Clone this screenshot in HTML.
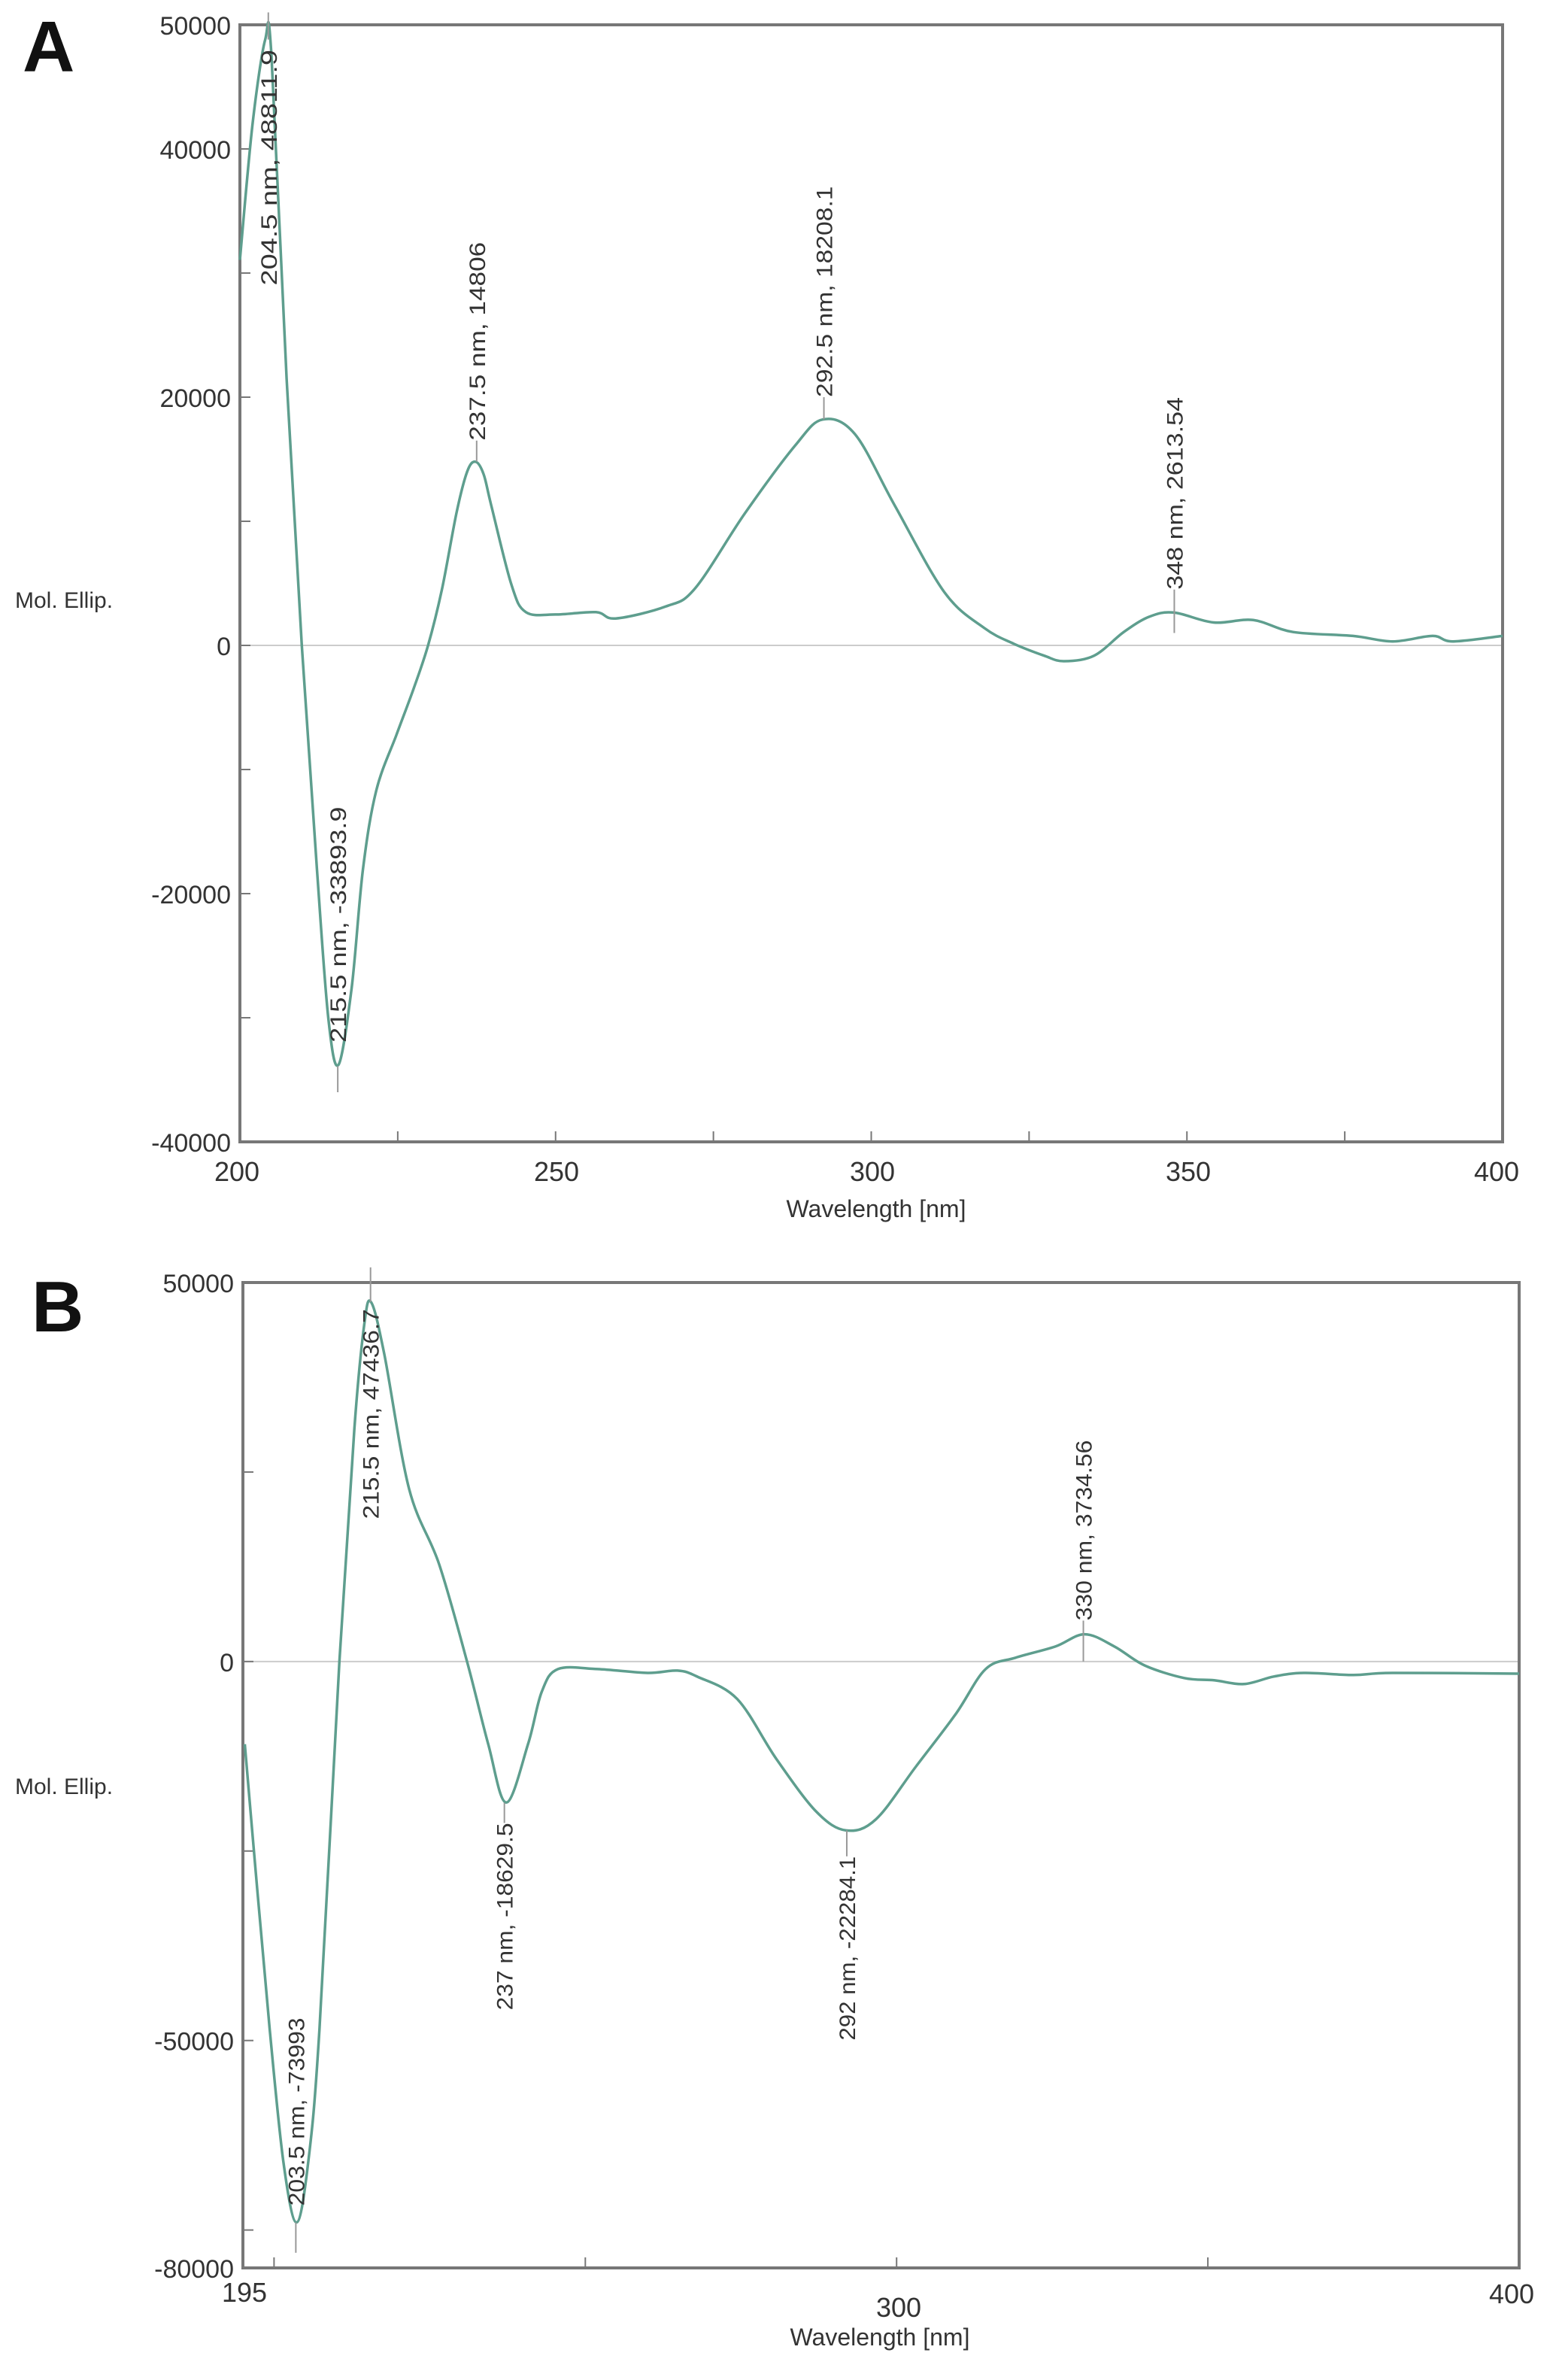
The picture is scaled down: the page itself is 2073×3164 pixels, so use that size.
<!DOCTYPE html>
<html><head><meta charset="utf-8"><style>
html,body{margin:0;padding:0;background:#fff;}
svg{display:block;}
text{font-family:"Liberation Sans",sans-serif;fill:#333;}
</style></head><body>
<svg id="s" width="2073" height="3164" viewBox="0 0 2073 3164" xmlns="http://www.w3.org/2000/svg">
<rect width="2073" height="3164" fill="#fff"/>
<text x="30" y="95" style="font-size:96px;font-weight:bold;fill:#111">A</text>
<text x="42" y="1770" style="font-size:96px;font-weight:bold;fill:#111">B</text>
<g id="A"></g><g id="B"></g>
</svg>
<script>
var NS="http://www.w3.org/2000/svg";
function el(p,t,a,txt){var e=document.createElementNS(NS,t);for(var k in a)e.setAttribute(k,a[k]);if(txt!=null)e.textContent=txt;p.appendChild(e);return e;}
function smooth(pts){var d="M"+pts[0][0].toFixed(1)+","+pts[0][1].toFixed(1);
for(var i=0;i<pts.length-1;i++){var p0=pts[i-1]||pts[i],p1=pts[i],p2=pts[i+1],p3=pts[i+2]||p2;
var c1=[p1[0]+(p2[0]-p0[0])/6,p1[1]+(p2[1]-p0[1])/6],c2=[p2[0]-(p3[0]-p1[0])/6,p2[1]-(p3[1]-p1[1])/6];
d+=" C"+c1[0].toFixed(1)+","+c1[1].toFixed(1)+" "+c2[0].toFixed(1)+","+c2[1].toFixed(1)+" "+p2[0].toFixed(1)+","+p2[1].toFixed(1);}return d;}
function panel(g,cfg){
 var X=function(l){return cfg.x0+(l-cfg.l0)*(cfg.x1-cfg.x0)/(cfg.l1-cfg.l0);};
 var Y=function(v){return cfg.y0+(cfg.v0-v)*(cfg.y1-cfg.y0)/(cfg.v0-cfg.v1);};
 el(g,"line",{x1:cfg.x0,y1:Y(0),x2:cfg.x1,y2:Y(0),stroke:"#ccc","stroke-width":2});
 el(g,"rect",{x:cfg.x0,y:cfg.y0,width:cfg.x1-cfg.x0,height:cfg.y1-cfg.y0,fill:"none",stroke:"#777","stroke-width":4});
 cfg.yt.forEach(function(v){el(g,"line",{x1:cfg.x0,y1:Y(v),x2:cfg.x0+14,y2:Y(v),stroke:"#777","stroke-width":2});});
 cfg.yl.forEach(function(v){var t=el(g,"text",{x:cfg.x0-12,y:Y(v)+13,"text-anchor":"end",style:"font-size:34px"},String(v));});
 cfg.xt.forEach(function(l){el(g,"line",{x1:X(l),y1:cfg.y1,x2:X(l),y2:cfg.y1-14,stroke:"#777","stroke-width":2});});
 cfg.xl.forEach(function(a){el(g,"text",{x:a[1],y:a[2],"text-anchor":"middle",style:"font-size:36px"},String(a[0]));});
 el(g,"text",{x:20,y:cfg.ml,style:"font-size:30px"},"Mol. Ellip.");
 el(g,"text",{x:cfg.wx,y:cfg.wy,"text-anchor":"middle",style:"font-size:32px"},"Wavelength [nm]");
 var pts=cfg.d.map(function(p){return [X(p[0]),Y(p[1])];});
 el(g,"path",{d:smooth(pts),fill:"none",stroke:"#5e9e8e","stroke-width":3.5,"stroke-linejoin":"round"});
 cfg.ann.forEach(function(a){var x=X(a[1]),ya=Y(a[2]),yb=Y(a[3]);
  el(g,"line",{x1:x,y1:Y(a[4]),x2:x,y2:(a[5]?Y(a[5]):ya),stroke:"#999","stroke-width":2});
  var len=Math.abs(yb-ya),cy=(ya+yb)/2;
  el(g,"text",{x:0,y:0,"text-anchor":"middle",textLength:len,lengthAdjust:"spacingAndGlyphs",style:"font-size:30px",transform:"translate("+(x+11)+","+cy+") rotate(-90)"},a[0]);});
}
panel(document.getElementById("A"),{x0:319,x1:1998,y0:33,y1:1518,l0:200,l1:400,v0:50000,v1:-40000,
 yt:[40000,30000,20000,10000,0,-10000,-20000,-30000],yl:[50000,40000,20000,0,-20000,-40000],
 xt:[225,250,275,300,325,350,375],xl:[[200,315,1570],[250,740,1570],[300,1160,1570],[350,1580,1570],[400,1990,1570]],
 ml:808,wx:1165,wy:1618,
 d:[[200,31060],[202,42000],[204,48800],[205,47500],[207.4,21500],[209.8,0],[212.2,-18000],[214,-30000],[215.6,-33800],[217.7,-27600],[219.5,-18000],[221.6,-11700],[224.8,-7200],[227.5,-3500],[229.8,0],[232,4500],[234.3,10650],[236,14000],[237.3,14800],[238.6,13800],[239.8,11300],[243,4900],[245.3,2680],[250,2490],[256.4,2680],[259.5,2170],[267.4,3125],[272.1,4600],[280,10650],[287.9,16070],[292.3,18200],[297.4,17030],[303.7,11290],[311.6,4270],[317.9,1400],[322.6,130],[327.4,-830],[330.5,-1275],[335.3,-830],[340,1080],[344,2300],[347.9,2650],[354.2,1850],[360.5,2040],[366.8,1080],[376.3,765],[382.6,320],[388.9,765],[392.1,320],[400,765]],
 ann:[["204.5 nm, 48811.9",204.5,29000,48000,51000,48812],["237.5 nm, 14806",237.5,16500,32500,16500,14806],["292.5 nm, 18208.1",292.5,20000,37000,20000,18208],["348 nm, 2613.54",348,4500,20000,4500,1000],["215.5 nm, -33893.9",215.5,-32000,-13000,-36000,-33894]]});
panel(document.getElementById("B"),{x0:323,x1:2020,y0:1705,y1:3015,l0:195,l1:400,v0:50000,v1:-80000,
 yt:[25000,0,-25000,-50000,-75000],yl:[50000,0,-50000,-80000],
 xt:[200,250,300,350],xl:[[195,325,3060],[300,1195,3080],[400,2010,3062]],
 ml:2385,wx:1170,wy:3118,
 d:[[195.3,-10900],[197.3,-30000],[199.3,-48500],[201.5,-66000],[203.6,-74000],[205.5,-66000],[207.3,-48500],[210.5,0],[212.9,30700],[214.5,44500],[215.6,47400],[217.7,40600],[221.7,22770],[226.5,12870],[231,0],[234.4,-10900],[237.3,-18600],[240.8,-10900],[243,-4000],[245.6,-1000],[252,-1000],[260,-1500],[264.8,-1200],[268,-2000],[274.4,-4950],[280.7,-12870],[287.1,-19800],[291.9,-22280],[296.7,-20800],[303.1,-13860],[309.5,-6930],[314.3,-1000],[319.1,500],[325.5,1980],[330.2,3600],[335,1980],[339.8,-500],[346.2,-2180],[351,-2475],[355.8,-2970],[360.6,-1980],[365.4,-1500],[373.4,-1780],[379.7,-1500],[400,-1600]],
 ann:[["215.5 nm, 47436.7",215.5,18800,46500,52000,47437],["237 nm, -18629.5",237,-46000,-21300,-18630,-21300],["292 nm, -22284.1",292,-50000,-25700,-22284,-25700],["330 nm, 3734.56",330,5400,29200,0,5400],["203.5 nm, -73993",203.5,-71800,-47000,-78000,-74000]]});
</script>
</body></html>
